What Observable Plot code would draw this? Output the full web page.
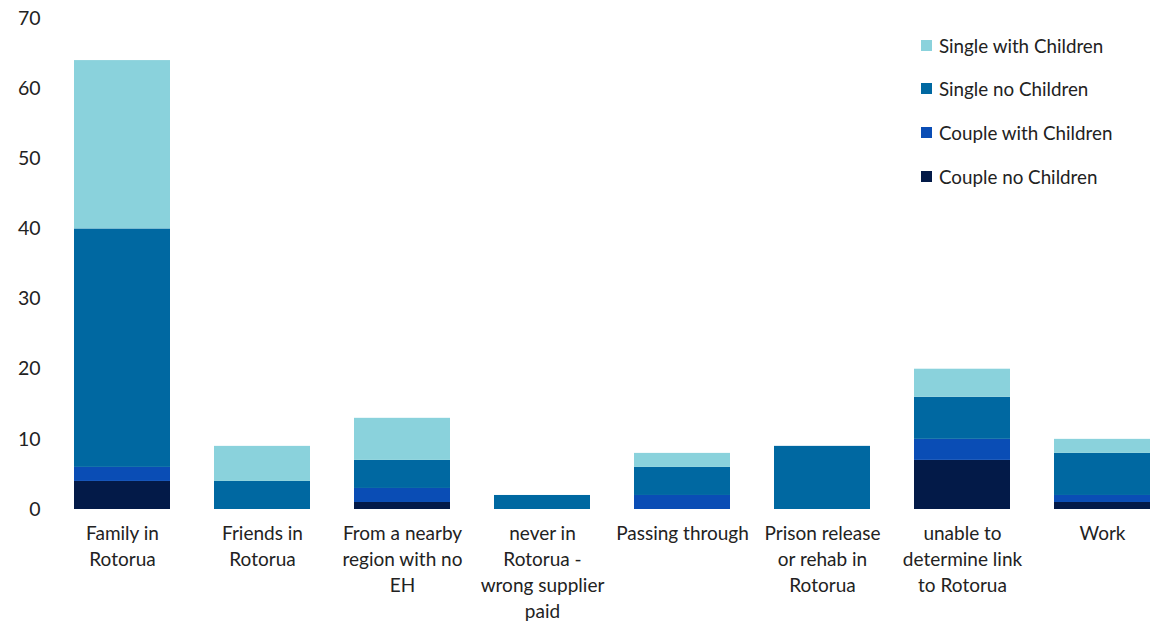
<!DOCTYPE html>
<html>
<head>
<meta charset="utf-8">
<script src="https://cdn.jsdelivr.net/npm/d3@7"></script>
<script src="https://cdn.jsdelivr.net/npm/@observablehq/plot@0.6"></script>
<style>
  html, body { margin: 0; padding: 0; background: #fff; }
  #wrap { position: relative; width: 1155px; height: 624px; font-family: Lato, "Open Sans", sans-serif; }
  #legend { position: absolute; left: 921px; top: 33px; font-size: 18.8px; color: #222; }
  #legend .row { display: flex; align-items: center; height: 24px; margin-bottom: 19.7px; }
  #legend .sw { width: 11px; height: 11px; margin-right: 7px; }
</style>
</head>
<body>
<div id="wrap"><div id="legend"></div></div>
<script>
const categories = ["Family in Rotorua", "Friends in Rotorua", "From a nearby region with no EH", "never in Rotorua - wrong supplier paid", "Passing through", "Prison release or rehab in Rotorua", "unable to determine link to Rotorua", "Work"];
const tickLabels = ["Family in\nRotorua", "Friends in\nRotorua", "From a nearby\nregion with no\nEH", "never in\nRotorua -\nwrong supplier\npaid", "Passing through", "Prison release\nor rehab in\nRotorua", "unable to\ndetermine link\nto Rotorua", "Work"];
const seriesNames = ["Couple no Children", "Couple with Children", "Single no Children", "Single with Children"];
const coupleNoChildren   = [4, 0, 1, 0, 0, 0, 7, 1];
const coupleWithChildren = [2, 0, 2, 0, 2, 0, 3, 1];
const singleNoChildren   = [34, 4, 4, 2, 4, 9, 6, 6];
const singleWithChildren = [24, 5, 6, 0, 2, 0, 4, 2];
const seriesColors = ["#031a48", "#0a4db5", "#0068a1", "#8ad2dc"];
const yTicks = [0, 10, 20, 30, 40, 50, 60, 70];

const seriesValues = [coupleNoChildren, coupleWithChildren, singleNoChildren, singleWithChildren];
const data = [];
seriesNames.forEach((s, si) => {
  categories.forEach((c, ci) => {
    data.push({category: c, series: s, value: seriesValues[si][ci]});
  });
});
const labelOf = new Map(categories.map((c, i) => [c, tickLabels[i]]));

const chart = Plot.plot({
  width: 1155,
  height: 624,
  marginTop: 18,
  marginBottom: 115,
  marginLeft: 60,
  marginRight: 0,
  style: {fontFamily: "Lato, 'Open Sans', sans-serif", color: "#222", background: "#fff"},
  x: {domain: categories, range: [72, 1152], paddingInner: 0.317, paddingOuter: 0, label: null},
  y: {domain: [0, 70], ticks: yTicks, label: null},
  color: {domain: seriesNames, range: seriesColors},
  marks: [
    Plot.gridY(yTicks, {stroke: "#e6e6e6", strokeOpacity: 1, strokeWidth: 1.5, x1: 55, x2: 1155}),
    Plot.barY(data, {x: "category", y: "value", fill: "series", order: seriesNames}),
    Plot.axisY(yTicks, {tickSize: 0, tickPadding: 0, fontSize: 19.5, textAnchor: "end", dx: -20}),
    Plot.axisX({tickSize: 0, tickPadding: 12, fontSize: 19, lineHeight: 1.37, lineAnchor: "top", tickFormat: d => labelOf.get(d)})
  ]
});
document.getElementById("wrap").prepend(chart);

const legend = document.getElementById("legend");
[3, 2, 1, 0].forEach(i => {
  const row = document.createElement("div");
  row.className = "row";
  const sw = document.createElement("div");
  sw.className = "sw";
  sw.style.background = seriesColors[i];
  const tx = document.createElement("span");
  tx.textContent = seriesNames[i];
  row.appendChild(sw);
  row.appendChild(tx);
  legend.appendChild(row);
});
</script>
</body>
</html>
